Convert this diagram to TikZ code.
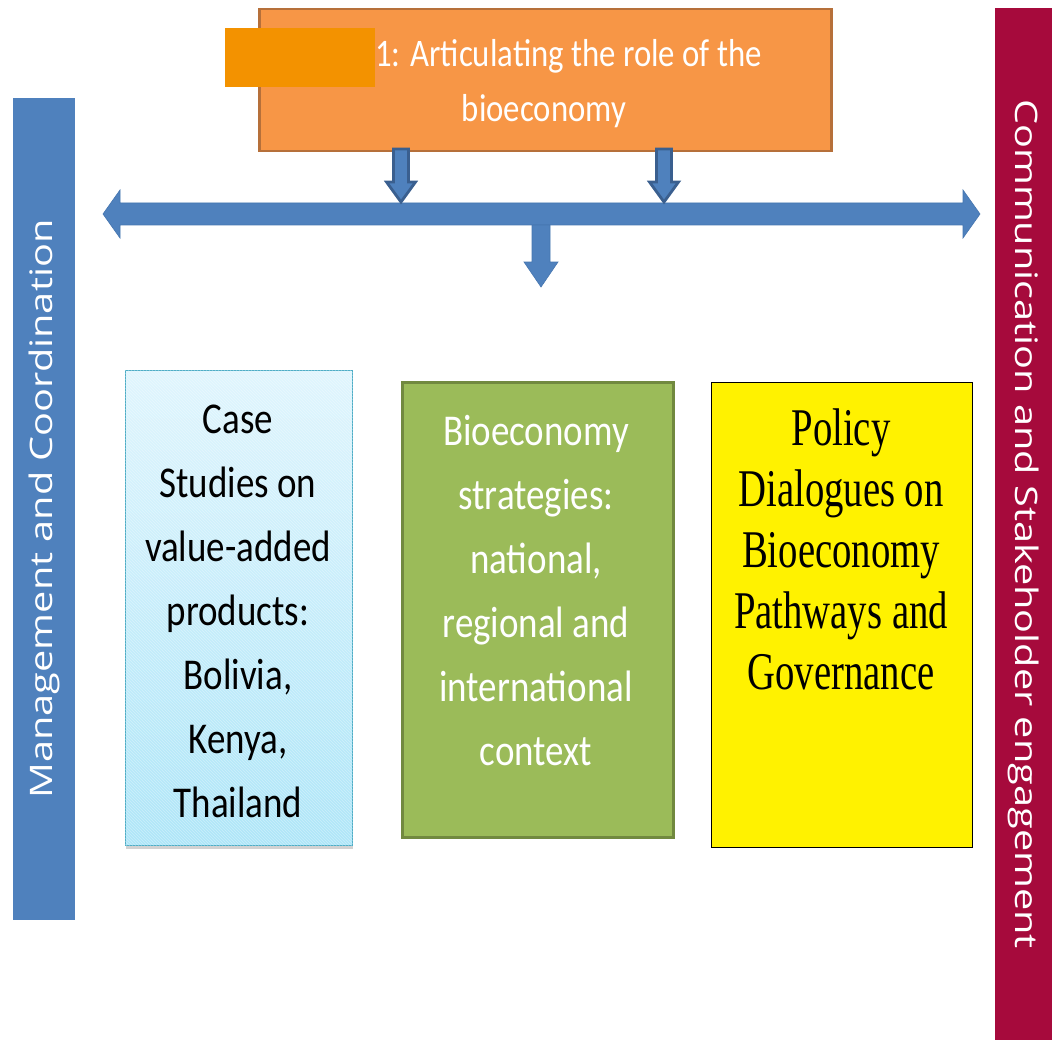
\documentclass[tikz,border=0pt]{standalone}
\usepackage{fontspec}
\setmainfont{Carlito}[FakeStretch=0.84]
\newfontfamily\policyfont{Liberation Serif}[FakeStretch=0.73]
\newfontfamily\barfont{Open Sans}[FakeStretch=1.28]
\usetikzlibrary{calc,shadows,patterns}

\definecolor{goalfill}{HTML}{F79646}
\definecolor{goaledge}{HTML}{B6703A}
\definecolor{patchorange}{HTML}{F39200}
\definecolor{flowblue}{HTML}{4F81BD}
\definecolor{flowedge}{HTML}{4676B0}
\definecolor{darkedge}{HTML}{3A5F8F}
\definecolor{casetop}{HTML}{E0F5FD}
\definecolor{casebot}{HTML}{AEE6F8}
\definecolor{caseedge}{HTML}{4BACC6}
\definecolor{stratfill}{HTML}{9BBB59}
\definecolor{stratedge}{HTML}{71893F}
\definecolor{commred}{HTML}{A60A3C}

% block arrow pointing down, from #1 to #2
\newcommand{\downblock}[6][]{%
  \draw[flowarrow,#1] let \p1=(#2), \p2=(#3) in
    (\x1-#4,\y1) -- (\x1+#4,\y1) -- (\x1+#4,\y2+#6) -- (\x1+#5,\y2+#6)
    -- (\x1,\y2) -- (\x1-#5,\y2+#6) -- (\x1-#4,\y2+#6) -- cycle;}

\begin{document}
\begin{tikzpicture}[x=1pt,y=-1pt,
  flowarrow/.style={fill=flowblue,draw=flowedge,line width=0.6pt,line join=miter},
  colbox/.style={anchor=north west,inner sep=0pt},
  coltext/.style={align=center,inner sep=0pt}]
\useasboundingbox[fill=white] (0,0) rectangle (1052,1043);

% side bars
\node[rotate=90,fill=flowblue,minimum width=822pt,minimum height=62pt,inner sep=0pt,
  text=white,font=\barfont\fontsize{31}{37}\selectfont] (mgmt) at (44,509)
  {Management and Coordination};
\node[rotate=-90,fill=commred,minimum width=1032pt,minimum height=57pt,inner sep=0pt,
  text=white,font=\barfont\fontsize{31}{37}\selectfont] (comm) at (1023.5,524)
  {Communication and Stakeholder engagement};

% goal box
\node[colbox,fill=goalfill,draw=goaledge,line width=2.5pt,
  minimum width=572pt,minimum height=142pt] (goal) at (258,8) {};
\node[coltext,text=white,font=\fontsize{39}{55}\selectfont] (goaltext) at (544,84)
  {\hspace*{49pt}1: Articulating the role of the\\bioeconomy};
\fill[patchorange] (225,28) rectangle (375,87);

% arrows
\coordinate (hl) at (103,214);
\coordinate (hr) at (980,214);
\draw[flowarrow] let \p1=(hl), \p2=(hr) in
  (\x1,\y1) -- (\x1+17pt,\y1+24pt) -- (\x1+17pt,\y1+11pt) -- (\x2-17pt,\y1+11pt)
  -- (\x2-17pt,\y1+24pt) -- (\x2,\y1) -- (\x2-17pt,\y1-24pt) -- (\x2-17pt,\y1-11pt)
  -- (\x1+17pt,\y1-11pt) -- (\x1+17pt,\y1-24pt) -- cycle;

\coordinate (d1) at (401,149);
\coordinate (d1e) at (401,202);
\coordinate (d2) at (664,149);
\coordinate (d2e) at (664,202);
\coordinate (d3) at (541,225);
\coordinate (d3e) at (541,287);
\downblock[draw=darkedge,line width=2.8pt]{d1}{d1e}{7.5pt}{14.5pt}{20pt}
\downblock[draw=darkedge,line width=2.8pt]{d2}{d2e}{7.5pt}{14.5pt}{20pt}
\downblock{d3}{d3e}{9pt}{17pt}{25pt}

% three columns
\node[colbox,draw=caseedge,line width=0.8pt,top color=casetop,bottom color=casebot,
  minimum width=227pt,minimum height=475pt,
  drop shadow={shadow xshift=1pt,shadow yshift=-4pt,opacity=0.35}] (case) at (125,370) {};
\fill[pattern=north west lines,pattern color=white,opacity=0.35]
  (case.north west) rectangle (case.south east);
\node[coltext,font=\fontsize{44}{64}\selectfont] (casetext) at (238,611)
  {Case\\Studies on\\value-added\\products:\\Bolivia,\\Kenya,\\Thailand};

\node[colbox,fill=stratfill,draw=stratedge,line width=3pt,
  minimum width=271pt,minimum height=455pt] (strat) at (401,381) {};
\node[coltext,text=white,font=\fontsize{44}{64}\selectfont] (strattext) at (536,591)
  {Bioeconomy\\strategies:\\national,\\regional and\\international\\context};

\node[colbox,fill=yellow,draw=black,line width=0.8pt,
  minimum width=261pt,minimum height=465pt] (policy) at (711,382) {};
\node[coltext,font=\policyfont\fontsize{53}{61}\selectfont] (policytext) at (841,549)
  {Policy\\Dialogues on\\Bioeconomy\\Pathways and\\Governance};
\end{tikzpicture}
\end{document}
